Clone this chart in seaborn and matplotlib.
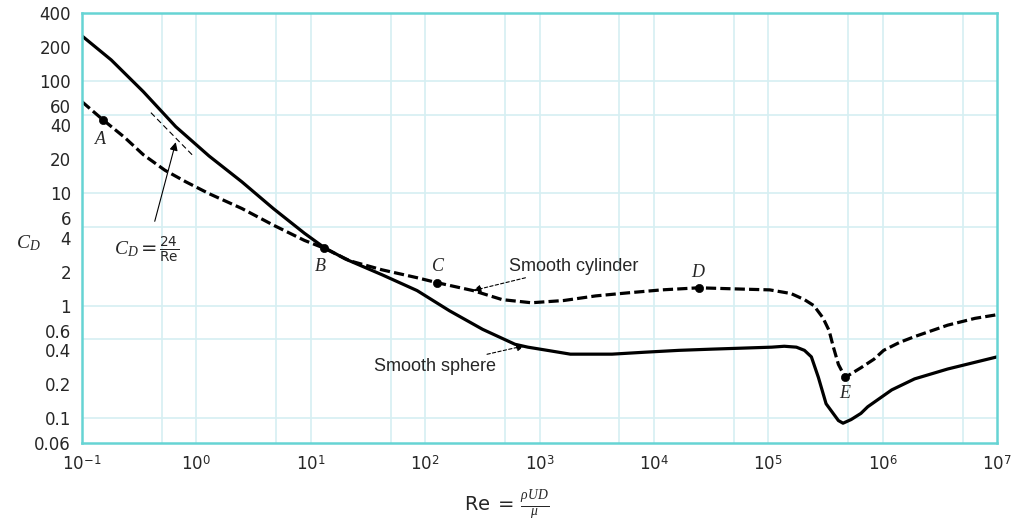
import matplotlib
matplotlib.use("Agg")
import matplotlib.pyplot as plt
import seaborn as sns
from matplotlib.ticker import FixedLocator, NullFormatter

# Courbes (Re, C_D)
sphere_re = [0.1, 0.18, 0.343, 0.66, 1.29, 2.5, 4.7, 8.8, 13, 20, 42, 85, 163,
             318, 610, 790, 1170, 1860, 4300, 8300, 16500, 32000, 1.07e5,
             1.38e5, 1.76e5, 2.07e5, 2.38e5, 2.74e5, 3.2e5, 4.1e5, 4.5e5,
             5.3e5, 6.45e5, 7.4e5, 1.2e6, 1.9e6, 3.7e6, 1e7]
sphere_cd = [250, 153, 80, 39, 21.4, 12.6, 7.3, 4.4, 3.3, 2.6, 1.88, 1.36, 0.90,
             0.615, 0.453, 0.427, 0.40, 0.37, 0.37, 0.385, 0.40, 0.41, 0.427,
             0.435, 0.427, 0.40, 0.35, 0.23, 0.134, 0.095, 0.09,
             0.097, 0.11, 0.126, 0.178, 0.223, 0.273, 0.35]

cyl_re = [0.1, 0.152, 0.234, 0.343, 0.53, 0.81, 1.29, 2.5, 4.7, 8.8, 13, 22,
          42, 85, 127, 262, 472, 850, 1630, 3100, 6000, 11700, 24700, 62000,
          1.03e5, 1.58e5, 2.07e5, 2.5e5, 3.0e5, 3.4e5, 3.7e5, 4.1e5, 4.7e5,
          6.45e5, 8.4e5, 1.02e6, 1.4e6, 1.9e6, 3.7e6, 6.4e6, 1e7]
cyl_cd = [65, 45, 31.5, 22, 16, 12.6, 9.9, 7.3, 5.2, 3.8, 3.25, 2.5,
          2.08, 1.77, 1.6, 1.36, 1.13, 1.06, 1.11, 1.22, 1.30, 1.38, 1.44, 1.40,
          1.38, 1.28, 1.13, 1.0, 0.78, 0.60, 0.43, 0.30, 0.23,
          0.28, 0.334, 0.40, 0.47, 0.53, 0.67, 0.77, 0.83]

# petit segment C_D = 24/Re
stokes_re = [0.4, 0.94]
stokes_cd = [52, 21.4]

# points repères A..E
point_names = ["A", "B", "C", "D", "E"]
point_re = [0.152, 13, 127, 24700, 4.7e5]
point_cd = [45, 3.28, 1.6, 1.44, 0.23]

y_ticks = [0.06, 0.1, 0.2, 0.4, 0.6, 1, 2, 4, 6, 10, 20, 40, 60, 100, 200, 400]
y_ticklabels = ["0.06", "0.1", "0.2", "0.4", "0.6", "1", "2", "4", "6", "10",
                "20", "40", "60", "100", "200", "400"]
x_ticks = [1e-1, 1e0, 1e1, 1e2, 1e3, 1e4, 1e5, 1e6, 1e7]
x_ticklabels = [r"$10^{-1}$", r"$10^{0}$", r"$10^{1}$", r"$10^{2}$", r"$10^{3}$",
                r"$10^{4}$", r"$10^{5}$", r"$10^{6}$", r"$10^{7}$"]

sns.set_style("white")
plt.rcParams["font.family"] = ["Liberation Sans", "DejaVu Sans"]
plt.rcParams["mathtext.fontset"] = "custom"
plt.rcParams["mathtext.rm"] = "DejaVu Sans"
plt.rcParams["mathtext.it"] = "Liberation Serif:italic"
plt.rcParams["mathtext.bf"] = "DejaVu Sans:bold"

frame_col = "#66d4d4"
grid_col = "#d6eff2"

fig = plt.figure(figsize=(10.14, 5.27), dpi=100)
ax = fig.add_axes([0.0809, 0.1594, 0.9024, 0.8159])
ax.set_xscale("log")
ax.set_yscale("log")

sns.lineplot(x=sphere_re, y=sphere_cd, ax=ax, color="black", lw=2.3,
             sort=False, estimator=None)
sns.lineplot(x=cyl_re, y=cyl_cd, ax=ax, color="black", lw=2.3,
             sort=False, estimator=None, linestyle=(0, (3.2, 1.3)))
sns.lineplot(x=stokes_re, y=stokes_cd, ax=ax, color="black", lw=0.8,
             sort=False, estimator=None, linestyle=(0, (5, 3)))
sns.scatterplot(x=point_re, y=point_cd, ax=ax, color="black", s=35,
                edgecolor="black", zorder=5)

ax.set_xlim(1e-1, 1e7)
ax.set_ylim(0.06, 400)

ax.xaxis.set_major_locator(FixedLocator(x_ticks))
ax.set_xticklabels(x_ticklabels)
ax.yaxis.set_major_locator(FixedLocator(y_ticks))
ax.set_yticklabels(y_ticklabels, fontfamily="DejaVu Sans")

# grille : décades et 5x décades
xg = [m * 10.0 ** k for k in range(-1, 7) for m in (1, 5)]
yg = [m * 10.0 ** k for k in range(-2, 3) for m in (1, 5)]
ax.xaxis.set_minor_locator(FixedLocator(xg))
ax.yaxis.set_minor_locator(FixedLocator(yg))
ax.xaxis.remove_overlapping_locs = False
ax.yaxis.remove_overlapping_locs = False
ax.xaxis.set_minor_formatter(NullFormatter())
ax.yaxis.set_minor_formatter(NullFormatter())
ax.grid(False, which="major")
ax.grid(True, which="minor", color=grid_col, lw=1.2)
ax.tick_params(which="both", length=0)
ax.tick_params(axis="y", labelsize=12, pad=8)
ax.tick_params(axis="x", labelsize=12, pad=8)
for s in ax.spines.values():
    s.set_color(frame_col)
    s.set_linewidth(1.8)

serif_it = dict(family="Liberation Serif", style="italic", fontsize=13)
label_pos = {"A": (0.145, 30), "B": (12, 2.25), "C": (130, 2.25),
             "D": (24000, 1.95), "E": (4.7e5, 0.165)}
for name in point_names:
    tx, ty = label_pos[name]
    ax.text(tx, ty, name, ha="center", va="center", **serif_it)

arrow = dict(arrowstyle="-|>", color="black", lw=0.8, linestyle=(0, (3, 2)),
             mutation_scale=12, shrinkA=0, shrinkB=0)
ax.annotate("Smooth cylinder", xy=(262, 1.36), xytext=(540, 2.25),
            fontsize=13, ha="left", va="center", arrowprops=arrow)
ax.annotate("Smooth sphere", xy=(740, 0.44), xytext=(420, 0.29),
            fontsize=13, ha="right", va="center", arrowprops=arrow)
ax.annotate(r"$C_D = \frac{24}{\mathrm{Re}}$", xy=(0.66, 28.4),
            xytext=(0.37, 3.1), fontsize=14, ha="center", va="center",
            arrowprops=dict(arrowstyle="-|>", color="black", lw=0.8,
                            mutation_scale=12, shrinkA=8, shrinkB=0))

ax.text(-0.059, 0.465, r"$C_D$", transform=ax.transAxes, fontsize=14,
        ha="center", va="center")
fig.text(0.5, 0.042, r"$\mathrm{Re}\ =\ \frac{\rho U D}{\mu}$", fontsize=14,
         ha="center", va="center")

plt.savefig("out.png", dpi=100)
